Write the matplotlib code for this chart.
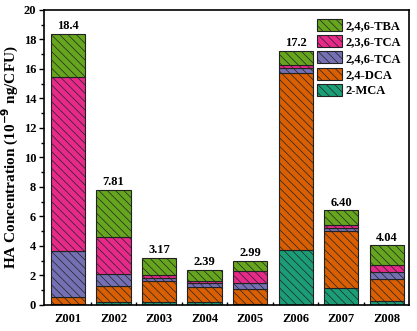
import matplotlib.pyplot as plt
import numpy as np
from matplotlib.ticker import MultipleLocator, FixedLocator

plt.rcParams['font.family'] = ['Liberation Serif', 'DejaVu Serif']
plt.rcParams['font.weight'] = 'bold'
plt.rcParams['hatch.linewidth'] = 0.5
plt.rcParams['hatch.color'] = '#333333'

samples = ['Z001', 'Z002', 'Z003', 'Z004', 'Z005', 'Z006', 'Z007', 'Z008']
mca = [0.05, 0.22, 0.22, 0.16, 0.09, 3.73, 1.17, 0.27]
dca = [0.47, 1.07, 1.41, 1.06, 0.97, 12.02, 3.83, 1.45]
tca246 = [3.14, 0.81, 0.18, 0.29, 0.43, 0.34, 0.24, 0.50]
tca236 = [11.82, 2.49, 0.22, 0.14, 0.81, 0.18, 0.16, 0.45]
tba = [2.92, 3.22, 1.14, 0.74, 0.69, 0.93, 1.00, 1.37]
totals = ['18.4', '7.81', '3.17', '2.39', '2.99', '17.2', '6.40', '4.04']

series = [('2-MCA', mca, '#1b9e77'),
          ('2,4-DCA', dca, '#d95f02'),
          ('2,4,6-TCA', tca246, '#7570b3'),
          ('2,3,6-TCA', tca236, '#e7298a'),
          ('2,4,6-TBA', tba, '#66a61e')]

fig, ax = plt.subplots(figsize=(4.17, 3.31), dpi=100)
x = np.arange(len(samples))
bottom = np.zeros(len(samples))
handles = []
for name, vals, col in series:
    b = ax.bar(x, vals, 0.75, bottom=bottom, color=col, edgecolor='#222222',
               linewidth=0.8, hatch='\\\\\\\\', label=name)
    handles.append(b)
    bottom += np.array(vals)

for xi, top, lab in zip(x, bottom, totals):
    ax.text(xi, top + 0.12, lab, ha='center', va='bottom', fontsize=9, fontweight='bold')

ax.set_xlim(-0.53, 7.5)
ax.set_ylim(0, 20)
ax.set_xticks(x)
ax.set_xticklabels(samples, fontsize=9, fontweight='bold')
ax.xaxis.set_minor_locator(FixedLocator(x[:-1] + 0.5))
ax.tick_params(axis='x', which='major', length=0, pad=6)
ax.tick_params(axis='x', which='minor', direction='in', length=2.5, width=1)
ax.yaxis.set_major_locator(MultipleLocator(2))
ax.yaxis.set_minor_locator(MultipleLocator(1))
ax.tick_params(axis='y', which='major', direction='out', length=3.5, width=1, labelsize=9, pad=2)
ax.tick_params(axis='y', which='minor', direction='out', length=2, width=1)
for lab in ax.get_yticklabels():
    lab.set_fontweight('bold')
ax.set_ylabel('HA Concentration (10$^{-9}$ ng/CFU)', fontsize=11, fontweight='bold', labelpad=2)
for s in ax.spines.values():
    s.set_linewidth(1.2)

leg = ax.legend(handles[::-1], [s[0] for s in series][::-1], loc='upper right',
                fontsize=9, frameon=False, handlelength=2.0, handleheight=1.1,
                labelspacing=0.25, handletextpad=0.25, borderaxespad=0.3)
for t in leg.get_texts():
    t.set_fontweight('bold')

plt.subplots_adjust(left=0.105, right=0.982, top=0.97, bottom=0.079)
plt.savefig('out.png', dpi=100)
